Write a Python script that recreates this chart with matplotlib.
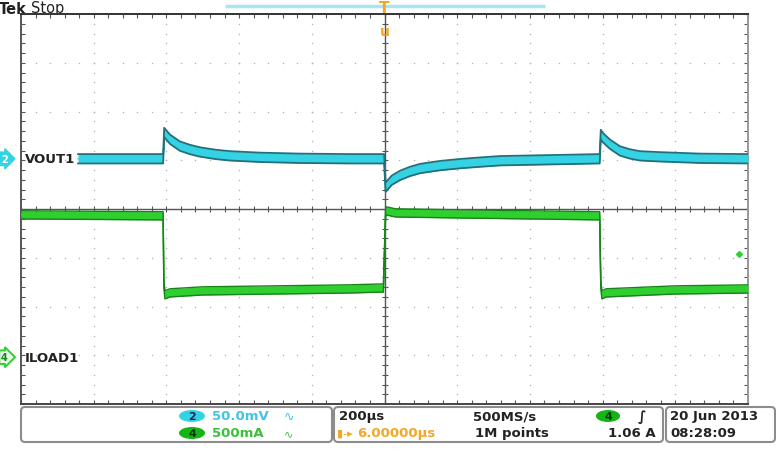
import numpy as np
import matplotlib
matplotlib.use('Agg')
import matplotlib.pyplot as plt
from matplotlib.patches import FancyBboxPatch, Ellipse

# time axis, us (200 us/div, 10 div)
t_v = [-843, -609, -606, -590, -563, -535, -508, -465, -425, -343, -232, -95, -1, 3, 6, 20, 43, 70,
       98, 125, 153, 208, 260, 318, 455, 592, 595, 600, 620, 648, 675, 703, 758, 868, 1000]
# VOUT1 deviation, mV (50 mV/div)
v_mv = [0, 0, 27, 20, 13, 9.5, 7, 4.5, 3, 1.5, 0.5, 0, 0, -29, -28, -22, -17, -13,
        -10, -8.5, -7, -5, -3.5, -2, -1, 0, 25, 22, 15, 8, 5, 3, 2, 0.5, 0]
# ILOAD1, A (500 mA/div)
t_i = [-1000, -609, -607, -604, -590, -500, -300, -100, -3, 3, 6, 30, 200, 400, 592, 595, 598, 610, 800, 1000]
i_a = [1.46, 1.45, 0.75, 0.64, 0.66, 0.68, 0.69, 0.70, 0.71, 1.48, 1.50, 1.48, 1.47, 1.46, 1.45, 0.75, 0.64,
       0.66, 0.69, 0.70]

vout_scale, vout_pos = 50.0, 1.03
iload_scale, iload_pos = 0.5, -3.04
trig_level = 1.06

cyan = '#34d2e2'
cyan_dk = '#22707a'
green = '#2fcf2f'
green_dk = '#17831a'
orange = '#f5a623'
txt = '#222222'

fig = plt.figure(figsize=(7.76, 4.64), dpi=100)
ax = fig.add_axes([21/776, (464-405)/464, 727/776, 390/464])
ax.set_xlim(-1000, 1000)
ax.set_ylim(-4, 4)

# graticule
ax.set_xticks(np.arange(-1000, 1001, 200))
ax.set_xticks(np.arange(-1000, 1001, 40), minor=True)
ax.set_yticks(np.arange(-4, 4.1, 1))
ax.set_yticks(np.arange(-4, 4.01, 0.2), minor=True)
ax.tick_params(which='both', direction='in', top=True, right=True, labelleft=False, labelbottom=False,
               color='#555555', length=3, width=0.8)
for s, c in zip(['top', 'left', 'bottom', 'right'], ['#333333', '#555555', '#444444', '#999999']):
    ax.spines[s].set_color(c)
    ax.spines[s].set_linewidth(1.4)

gx = [x for x in range(-800, 801, 200) if x != 0]
yd = np.arange(-4, 4.01, 0.2)
for x in gx:
    ax.scatter(np.full(len(yd), x), yd, s=1.2, color='#b5b5b5', lw=0, zorder=1)
xd = np.arange(-1000, 1001, 40)
for y in [-3, -2, -1, 1, 2, 3]:
    ax.scatter(xd, np.full(len(xd), y), s=1.2, color='#b5b5b5', lw=0, zorder=1)
ax.axhline(0, color='#555555', lw=1, zorder=1)
ax.axvline(0, color='#555555', lw=1, zorder=1)
ax.plot(xd, np.zeros(len(xd)), '|', color='#555555', ms=5, mew=0.8, zorder=1)
ax.plot(np.zeros(len(yd)), yd, '_', color='#555555', ms=5, mew=0.8, zorder=1)

# VOUT1 trace
tv = np.array(t_v)
vd = np.array(v_mv) / vout_scale + vout_pos
hw = 4.8 / vout_scale
ax.fill_between(tv, vd - hw, vd + hw, color=cyan, lw=0, zorder=3)
ax.plot(tv, vd + hw, color=cyan_dk, lw=1.3, zorder=4)
ax.plot(tv, vd - hw, color=cyan_dk, lw=1.3, zorder=4)
ax.plot(tv, vd, color=cyan, lw=1, zorder=3)

# ILOAD1 trace
ti = np.array(t_i)
idv = np.array(i_a) / iload_scale + iload_pos
hw = 0.042 / iload_scale
ax.fill_between(ti, idv - hw, idv + hw, color=green, lw=0, zorder=3)
ax.plot(ti, idv + hw, color=green_dk, lw=1.0, zorder=4)
ax.plot(ti, idv - hw, color=green_dk, lw=1.0, zorder=4)
ax.plot(ti, idv, color=green, lw=1, zorder=3)

# trigger level marker
ax.plot([975], [trig_level / iload_scale + iload_pos], marker='D', ms=3, color=green, zorder=5)

# channel labels
ax.text(-990, vout_pos, 'VOUT1', fontsize=9.5, fontweight='bold', va='center', ha='left', color=txt, zorder=6)
ax.text(-990, iload_pos, 'ILOAD1', fontsize=9.5, fontweight='bold', va='center', ha='left', color=txt, zorder=6)
ax.annotate('2', xy=(1, vout_pos), xycoords=('figure pixels', 'data'), fontsize=7, fontweight='bold',
            color='white', va='center', ha='left', annotation_clip=False,
            bbox=dict(boxstyle='rarrow,pad=0.18', fc=cyan, ec=cyan))
ax.annotate('4', xy=(1, iload_pos), xycoords=('figure pixels', 'data'), fontsize=7, fontweight='bold',
            color=green_dk, va='center', ha='left', annotation_clip=False,
            bbox=dict(boxstyle='rarrow,pad=0.18', fc='#e8f8e8', ec=green, lw=1.4))

# overlay for status bars
ov = fig.add_axes([0, 0, 1, 1], zorder=-1)
ov.set_xlim(0, 776)
ov.set_ylim(464, 0)
ov.axis('off')

ov.text(-1, 9, 'Tek', fontsize=10.5, fontweight='bold', color=txt, va='center', ha='left')
ov.text(31, 9, 'Stop', fontsize=10.5, color=txt, va='center', ha='left')
ov.plot([225, 545], [7, 7], color='#a8e6f2', lw=2.5, solid_capstyle='butt')

# trigger position / expansion markers
ax.annotate('T', xy=(0, 4), xycoords='data', xytext=(0, 5), textcoords='offset points', fontsize=11,
            fontweight='bold', color=orange, ha='center', va='center', annotation_clip=False, zorder=7)
ax.annotate('u', xy=(0, 4), xycoords='data', xytext=(0, -12), textcoords='offset points', fontsize=10,
            fontweight='bold', color=orange, ha='center', va='center', annotation_clip=False, zorder=7)

for x0, w in [(21, 311), (334, 329), (666, 109)]:
    ov.add_patch(FancyBboxPatch((x0, 408), w, 35, boxstyle='round,pad=0,rounding_size=4',
                                fc='white', ec='#8c8c8c', lw=1.5))

ov.add_patch(Ellipse((192, 417), 26, 12, fc=cyan, ec='none'))
ov.text(192, 417, '2', fontsize=8, fontweight='bold', color='#1a2a60', ha='center', va='center')
ov.add_patch(Ellipse((192, 434), 26, 12, fc='#16b516', ec='none'))
ov.text(192, 434, '4', fontsize=8, fontweight='bold', color='#0a3a0a', ha='center', va='center')
ov.text(212, 417, '50.0mV', fontsize=9.5, fontweight='bold', color='#40c6e2', ha='left', va='center')
ov.text(284, 417, '\u223f', fontsize=9, color='#40c6e2', ha='left', va='center')
ov.text(212, 434, '500mA', fontsize=9.5, fontweight='bold', color='#3cc03c', ha='left', va='center')
ov.text(284, 434, '\u223f', fontsize=8, color='#3cc03c', ha='left', va='center')

ov.text(339, 417, '200\u00b5s', fontsize=9.5, fontweight='bold', color=txt, ha='left', va='center')
ov.text(473, 417, '500MS/s', fontsize=9.5, fontweight='bold', color=txt, ha='left', va='center')
ov.text(337, 434, '\u25ae-\u25b8', fontsize=8, color=orange, ha='left', va='center')
ov.text(357, 434, '6.00000\u00b5s', fontsize=9.5, fontweight='bold', color=orange, ha='left', va='center')
ov.text(475, 434, '1M points', fontsize=9.5, fontweight='bold', color=txt, ha='left', va='center')
ov.add_patch(Ellipse((608, 417), 24, 12, fc='#16b516', ec='none'))
ov.text(608, 417, '4', fontsize=8, fontweight='bold', color='#0a3a0a', ha='center', va='center')
ov.text(642, 417, '\u222b', fontsize=10, fontweight='bold', color=txt, ha='center', va='center')
ov.text(656, 434, '1.06 A', fontsize=9.5, fontweight='bold', color=txt, ha='right', va='center')

ov.text(670, 417, '20 Jun 2013', fontsize=9.5, fontweight='bold', color=txt, ha='left', va='center')
ov.text(670, 434, '08:28:09', fontsize=9.5, fontweight='bold', color=txt, ha='left', va='center')

fig.savefig('out.png', dpi=100)
